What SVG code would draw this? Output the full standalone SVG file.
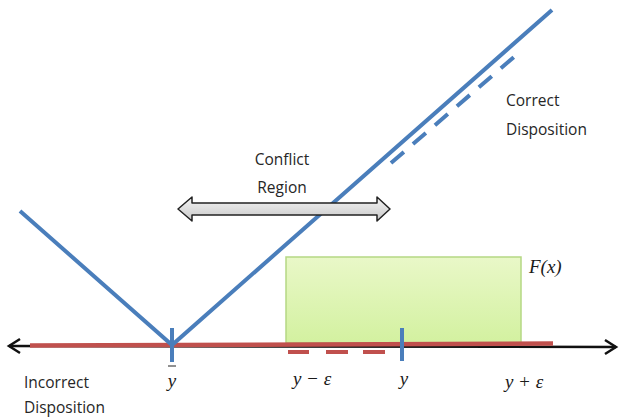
<svg xmlns="http://www.w3.org/2000/svg" width="622" height="417" viewBox="0 0 622 417">
<style>
.txt{font-family:"Open Sans","Noto Sans","Liberation Sans",sans-serif;font-size:15.5px;fill:#262626}
.math{font-family:"Liberation Serif","Times New Roman",serif;font-style:italic;font-size:19px;fill:#1a1a1a}
.blue{stroke:#4a7ebb;stroke-width:4;fill:none}
.red{stroke:#c0504d;fill:none}
</style>
<defs>
<linearGradient id="gGreen" x1="0" y1="0" x2="0" y2="1">
<stop offset="0" stop-color="#e9f8c8"/>
<stop offset="1" stop-color="#d3f1a0"/>
</linearGradient>
<linearGradient id="gGray" x1="0" y1="0" x2="0" y2="1">
<stop offset="0" stop-color="#f4f4f4"/>
<stop offset="1" stop-color="#c8c8c8"/>
</linearGradient>
</defs>
<g id="fbox">
<rect x="286" y="257" width="235" height="86" fill="url(#gGreen)" stroke="#b5d884" stroke-width="1.5"/>
<text class="math" x="529" y="273">F(x)</text>
</g>
<g id="connectors">
<g id="axis" stroke="#111" stroke-width="2.5" fill="none">
<line x1="9" y1="346" x2="616" y2="347"/>
<polyline points="20,339 9,346 20,353"/>
<polyline points="605,340 616,347 605,354"/>
</g>
<line class="red" x1="30" y1="345.5" x2="553" y2="343.5" stroke-width="4.5"/>
<g class="red" stroke-width="4">
<line x1="288" y1="352" x2="309" y2="352"/>
<line x1="326" y1="352" x2="348" y2="352"/>
<line x1="363" y1="352" x2="385" y2="352"/>
</g>
<polyline class="blue" points="20,211 172,345 552,10"/>
<line class="blue" x1="172" y1="328" x2="172" y2="362" stroke-width="2.5"/>
<line class="blue" x1="402" y1="328" x2="402" y2="361" stroke-width="2.5"/>
<line class="blue" x1="391" y1="163" x2="521" y2="51" stroke-dasharray="17,12"/>
<path id="conflictArrow" d="M178,209 L192,197 L192,203 L377,203 L377,197 L390,209 L377,221 L377,215 L192,215 L192,221 Z" fill="url(#gGray)" stroke="#222" stroke-width="1.5" stroke-linejoin="round"/>
</g>
<g id="labels">
<text class="txt" x="282" y="165" text-anchor="middle">Conflict</text>
<text class="txt" x="282" y="193" text-anchor="middle">Region</text>
<text class="txt" x="506" y="106">Correct</text>
<text class="txt" x="506" y="135">Disposition</text>
<text class="txt" x="24" y="388">Incorrect</text>
<text class="txt" x="24" y="413">Disposition</text>
<line x1="168" y1="366" x2="176" y2="366" stroke="#222" stroke-width="1"/>
<text class="math" x="172" y="387" text-anchor="middle">y</text>
<text class="math" x="312" y="385" text-anchor="middle">y − ε</text>
<text class="math" x="404" y="385" text-anchor="middle">y</text>
<text class="math" x="524" y="388" text-anchor="middle">y + ε</text>
</g>
</svg>
